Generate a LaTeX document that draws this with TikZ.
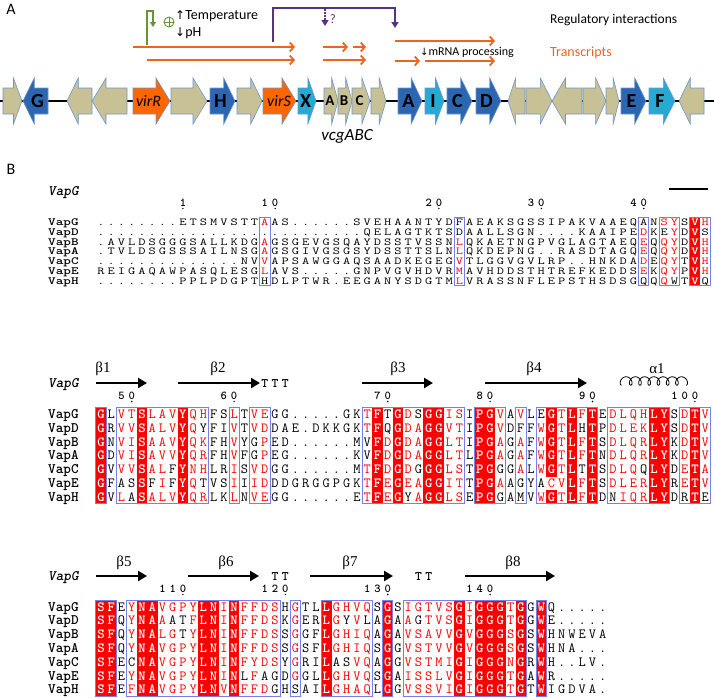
\documentclass[tikz,border=0pt]{standalone}
\usepackage{fontspec}
\usepackage{graphicx}
\setmainfont{Carlito}
\newfontfamily\grkfont{Liberation Serif}
\newfontfamily\arrfont{DejaVu Sans}
\usetikzlibrary{arrows.meta}

\definecolor{espred}{RGB}{255,0,0}
\definecolor{espbox}{RGB}{118,128,235}
\definecolor{genetan}{RGB}{201,193,150}
\definecolor{geneblue}{RGB}{44,102,176}
\definecolor{genecyan}{RGB}{38,170,212}
\definecolor{geneorange}{RGB}{255,102,0}
\definecolor{geneedge}{RGB}{110,150,205}
\definecolor{trorange}{RGB}{236,101,32}
\definecolor{regpurple}{RGB}{88,52,128}
\definecolor{promgreen}{RGB}{104,150,46}

\newcommand\seqfont{\ttfamily\fontsize{14}{14}\selectfont}
\newcommand\seqfontbf{\ttfamily\bfseries\fontsize{14}{14}\selectfont}
\def\resth{8.4pt}
\def\chwrap#1{#1}

\tikzset{
  res/.style={inner sep=0pt, text height=\resth, text depth=0pt, font=\seqfont},
  rowlab/.style={anchor=west, inner sep=0pt, text height=\resth, text depth=0pt, font=\ttfamily\bfseries\fontsize{14.5}{14.5}\selectfont},
  hdrlab/.style={rowlab, font=\ttfamily\bfseries\itshape\fontsize{14.5}{14.5}\selectfont},
  numlab/.style={inner sep=0pt, text height=7pt, text depth=0pt, font=\ttfamily\bfseries\fontsize{12}{12}\selectfont},
  turnlab/.style={inner sep=0pt, text height=8pt, text depth=0pt, font=\ttfamily\bfseries\fontsize{13}{13}\selectfont},
  sslab/.style={inner sep=0pt, font=\grkfont\fontsize{15}{15}\selectfont},
  strand/.style={line width=2.6pt, -{Triangle[length=9pt,width=10pt]}},
  strandbar/.style={line width=2.6pt},
  espframe/.style={draw=espbox, line width=0.9pt},
  genebox/.style={draw=geneedge, line width=0.6pt},
  genelab/.style={inner sep=0pt, font=\bfseries\fontsize{20}{20}\selectfont},
  smalllab/.style={inner sep=0pt, font=\bfseries\fontsize{15}{15}\selectfont},
  virlab/.style={inner sep=0pt, font=\itshape\fontsize{16}{16}\selectfont},
  tr/.style={draw=trorange, line width=1.8pt, -{Straight Barb[length=4pt,width=9pt]}},
  reg/.style={draw=regpurple, line width=1.6pt, -{Triangle[length=6pt,width=7pt]}},
}

% ---------- residue parser ----------
\newcount\colnum
\newif\ifbgnext
\def\seqx{101}\def\seqpw{10.24}
\def\seqrow#1#2#3{\def\rowy{#1}\def\rowh{#2}\global\colnum=0 \global\bgnextfalse\parseseq#3\relax}
\def\parseseq#1{%
  \ifx#1\relax
  \else
    \if!#1%
      \global\bgnexttrue
    \else
      \global\advance\colnum by 1\relax
      \drawres{#1}%
      \global\bgnextfalse
    \fi
    \expandafter\parseseq
  \fi}
\def\drawres#1{%
  \pgfmathsetmacro\rx{\seqx+(\the\colnum-1)*\seqpw}%
  \uppercase{\def\upch{#1}}%
  \ifbgnext
    \fill[espred] (\rx-\seqpw/2-0.2,\rowy-\rowh/2-0.2) rectangle (\rx+\seqpw/2+0.2,\rowy+\rowh/2+0.2);
    \node[res,text=white,font=\seqfontbf] at (\rx,\rowy) {\chwrap{\upch}};
  \else
    \ifnum`#1>96
      \node[res,text=espred] at (\rx,\rowy) {\chwrap{\upch}};
    \else
      \node[res] at (\rx,\rowy) {\chwrap{\upch}};
    \fi
  \fi}
\newcommand\ebox[4]{\draw[espframe] ({\seqx+(#1-1.5)*\seqpw},#3) rectangle ({\seqx+(#2-0.5)*\seqpw},#4);}

% ---------- genes ----------
\def\gy{101}\def\gbh{13}\def\ghh{23}
\newcommand\geneR[3]{%
  \pgfmathsetmacro\ghl{min(14,0.45*(#2-#1))}%
  \filldraw[genebox, fill=#3] (#1,\gy-\gbh) -- ({#2-\ghl},\gy-\gbh) -- ({#2-\ghl},\gy-\ghh) -- (#2,\gy) -- ({#2-\ghl},\gy+\ghh) -- ({#2-\ghl},\gy+\gbh) -- (#1,\gy+\gbh) -- cycle;}
\newcommand\geneL[3]{%
  \pgfmathsetmacro\ghl{min(14,0.45*(#2-#1))}%
  \filldraw[genebox, fill=#3] (#1,\gy) -- ({#1+\ghl},\gy-\ghh) -- ({#1+\ghl},\gy-\gbh) -- (#2,\gy-\gbh) -- (#2,\gy+\gbh) -- ({#1+\ghl},\gy+\gbh) -- ({#1+\ghl},\gy+\ghh) -- cycle;}

\begin{document}
\begin{tikzpicture}[x=1pt,y=-1pt]
\fill[white] (0,0) rectangle (714,697);
\useasboundingbox (0,0) rectangle (714,697);

% ================= Panel A =================
\node[font=\fontsize{16}{16}\selectfont] (panA) at (11,9) {A};
\node[font=\fontsize{16}{16}\selectfont] (panB) at (11,169) {B};

\coordinate (bbL) at (0,\gy);
\coordinate (bbR) at (714,\gy);
\draw[line width=1.2pt] (bbL) -- (bbR);

\geneR{3}{22}{genetan}
\geneL{23}{48}{geneblue}
\geneL{67}{92}{genetan}
\geneL{92}{127}{genetan}
\geneR{133}{170}{geneorange}
\geneR{171}{207}{genetan}
\geneR{210}{235}{geneblue}
\geneR{237}{262}{genetan}
\geneR{263}{296}{geneorange}
\geneR{298}{316}{genecyan}
\geneR{324}{338}{genetan}
\geneR{338}{352}{genetan}
\geneR{352}{370}{genetan}
\geneR{371}{386}{genetan}
\geneR{398}{422}{geneblue}
\geneR{425}{444}{genecyan}
\geneR{447}{472}{geneblue}
\geneR{476}{501}{geneblue}
\geneL{508}{525}{genetan}
\geneR{526}{552}{genetan}
\geneL{552}{582}{genetan}
\geneR{583}{606}{genetan}
\geneR{606}{619}{genetan}
\geneR{621}{646}{geneblue}
\geneR{649}{675}{genecyan}
\geneL{679}{704}{genetan}

\node[genelab] (gG) at (37.5,\gy) {G};
\node[virlab] (gvirR) at (148.5,\gy) {virR};
\node[genelab] (gH) at (220.5,\gy) {H};
\node[virlab] (gvirS) at (279,\gy) {virS};
\node[genelab] (gX) at (305.6,\gy) {X};
\node[smalllab] (gvA) at (330,\gy) {A};
\node[smalllab] (gvB) at (344,\gy) {B};
\node[smalllab] (gvC) at (359.5,\gy) {C};
\node[genelab] (gA) at (408.5,\gy) {A};
\node[genelab] (gI) at (433,\gy) {I};
\node[genelab] (gC) at (457.5,\gy) {C};
\node[genelab] (gD) at (486.5,\gy) {D};
\node[genelab] (gE) at (631.5,\gy) {E};
\node[genelab] (gF) at (660,\gy) {F};
\node[anchor=base, inner sep=0pt, font=\itshape\fontsize{17}{17}\selectfont] (vcg) at (347,140) {vcgABC};

% transcripts
\coordinate (t1a) at (133,47);  \coordinate (t1b) at (295,47);
\coordinate (t2a) at (147,60);  \coordinate (t2b) at (295,60);
\coordinate (t3a) at (323,47);  \coordinate (t3b) at (348,47);
\coordinate (t4a) at (353,47);  \coordinate (t4b) at (366,47);
\coordinate (t5a) at (323,60);  \coordinate (t5b) at (366,60);
\coordinate (t6a) at (395,41);  \coordinate (t6b) at (495,41);
\coordinate (t7a) at (395,61);  \coordinate (t7b) at (420,61);
\coordinate (t8a) at (425,61);  \coordinate (t8b) at (495,61);
\draw[tr] (t1a) -- (t1b);
\draw[tr] (t2a) -- (t2b);
\draw[tr] (t3a) -- (t3b);
\draw[tr] (t4a) -- (t4b);
\draw[tr] (t5a) -- (t5b);
\draw[tr] (t6a) -- (t6b);
\draw[tr] (t7a) -- (t7b);
\draw[tr] (t8a) -- (t8b);

% regulatory: purple
\coordinate (p0) at (273,42);
\coordinate (p1) at (395,8);
\coordinate (p2) at (395,28);
\draw[reg] (p0) |- (p1) -- (p2);
\coordinate (q0) at (325,9);
\coordinate (q1) at (325,26);
\draw[reg, line width=1.3pt, dash pattern=on 1.5pt off 1.5pt] (q0) -- (q1);
\node[text=regpurple, inner sep=0pt, font=\fontsize{13}{13}\selectfont] (qm) at (333,19) {?};

% promoter: green
\coordinate (g0) at (147,45);
\coordinate (g1) at (153,11);
\coordinate (g2) at (153,27);
\draw[draw=promgreen, line width=2pt, -{Triangle[length=5pt,width=6pt]}] (g0) |- (g1) -- (g2);
\node[draw=promgreen, circle, line width=0.9pt, minimum size=10pt, inner sep=0pt] (plus) at (169,22) {};
\draw[promgreen, line width=0.9pt] (plus.north) -- (plus.south) (plus.west) -- (plus.east);

\node[anchor=west, inner sep=0pt, font=\fontsize{14}{14}\selectfont] (temp) at (175,16) {{\arrfont\fontsize{12}{12}\selectfont ↑}Temperature};
\node[anchor=west, inner sep=0pt, font=\fontsize{14}{14}\selectfont] (ph) at (175,33) {{\arrfont\fontsize{12}{12}\selectfont ↓}pH};
\node[anchor=west, inner sep=0pt, font=\fontsize{12}{12}\selectfont] (mrna) at (420,52) {{\arrfont\fontsize{10}{10}\selectfont ↓}mRNA processing};
\node[anchor=west, inner sep=0pt, font=\fontsize{13.5}{13.5}\selectfont] (regint) at (550,20) {Regulatory interactions};
\node[anchor=west, inner sep=0pt, text=trorange, font=\fontsize{14}{14}\selectfont] (trans) at (550,53) {Transcripts};

% ================= Panel B =================
% ---- block 1 (vertically compressed) ----
\node[hdrlab] (h1) at (48,191) {VapG};
\draw[strandbar] (669,189) -- (708,189);
\foreach \c/\d in {9/1,17/1,18/0,33/2,34/0,43/3,44/0,53/4,54/0}
  \node[numlab] at ({\seqx+(\c-1)*\seqpw},203) {\d};
\foreach \c in {9,18,34,44,54} \fill ({\seqx+(\c-1)*\seqpw},208.5) circle (0.8);
\def\resth{6.4pt}
\def\chwrap#1{\scalebox{1}[0.76]{#1}}
\foreach \n [count=\i from 0] in {VapG,VapD,VapB,VapA,VapC,VapE,VapH}
  \node[rowlab] (r1-\i) at (48,{222.3+\i*9.75}) {\scalebox{1}[0.76]{\n}};
\seqrow{222.3}{9.75}{........ETSMVSTTaAS......SVEHAANTYDFAEAKSGSSIPAKVAAEQANsyS!Vh}
\seqrow{232.05}{9.75}{..........................QELAGTKTSDAALLSGN....KAAIPEdKEyD!VS}
\seqrow{241.8}{9.75}{.AVLDSGGGSALLKDGaGSGEVGSQAYDSSTVSSNlQKAETNGPVGLAGTAEQeQqyD!Vh}
\seqrow{251.55}{9.75}{.TVLDSGSSSAILNSGaGSGIVGSGSYDSSTTSLNlQKDEPNG..RASDTAGQeQqyD!Vh}
\seqrow{261.3}{9.75}{..............NVvAPSAWGGAQSAADKEGEGvTLGGVGVLRP..HNKDAdEqyT!Vh}
\seqrow{271.05}{9.75}{REIGAQAWPASQLESGlAVS.....GNPVGVHDVRmAVHDDSTHTREFKEDDSeKqyP!Vh}
\seqrow{280.8}{9.75}{........PPLPDGPTHDLPTWR.EEGANYSDGTMlVRASSNFLEPSTHSDSGQQqWT!VQ}
\ebox{17}{17}{217.4}{285.7}
\ebox{36}{36}{217.4}{285.7}
\ebox{54}{54}{217.4}{285.7}
\ebox{56}{57}{217.4}{285.7}
\ebox{59}{60}{217.4}{285.7}
\def\resth{8.4pt}
\def\chwrap#1{#1}

% ---- block 2 ----
\node[hdrlab] (h2) at (48,383) {VapG};
\node[sslab] (s1) at (103,369) {β1};
\draw[strand] (96,383) -- (147,383);
\node[sslab] (s2) at (218,369) {β2};
\draw[strand] (178,383) -- (260,383);
\foreach \c in {17,18,19} \node[turnlab] at ({\seqx+(\c-1)*\seqpw},383) {T};
\node[sslab] (s3) at (398,369) {β3};
\draw[strand] (362,383) -- (433,383);
\node[sslab] (s4) at (534,369) {β4};
\draw[strand] (485,383) -- (587,383);
\node[sslab] (s5) at (657,369) {α1};
\draw[line width=0.8pt] plot[domain=0:2520,samples=420] ({621.5+1.47*\x*pi/180-3.3*sin(\x)},{381+4.2*cos(\x)});
\foreach \c/\d in {3/5,4/0,13/6,14/0,28/7,29/0,38/8,39/0,48/9,49/0,57/1,58/0,59/0}
  \node[numlab] at ({\seqx+(\c-1)*\seqpw},396) {\d};
\foreach \c in {4,14,29,39,49,59} \fill ({\seqx+(\c-1)*\seqpw},401.5) circle (0.8);
\foreach \n [count=\i from 0] in {VapG,VapD,VapB,VapA,VapC,VapE,VapH}
  \node[rowlab] (r2-\i) at (48,{414.2+\i*13.8}) {\n};
\seqrow{414.2}{13.8}{!GLvt!Slav!YqhFSlTveGG.....GKt!FT!GdS!G!GisI!P!GvAvLE!Gt!Lf!TEdlqh!L!YSd!Tv}
\seqrow{428.0}{13.8}{!GRvv!Salv!YqYFIvTvdDAE.DKKGKt!FQ!Gda!G!GvtI!P!GvDFFw!Gt!LH!TPdlek!L!YSd!Tv}
\seqrow{441.8}{13.8}{!GNvi!Saav!YqkFHvYGpED......MV!Fd!Gda!G!GltI!P!GaGaFw!Gt!Lf!TSdlqr!L!YKd!Tv}
\seqrow{455.6}{13.8}{!GDvi!Savv!YqrFHvFGpEG......KV!Fd!Gda!G!GltL!P!GaGaFw!Gt!Lf!TNdlqr!L!YKd!Tv}
\seqrow{469.4}{13.8}{!GVvv!SalF!YnhLRiSvdGG......Mt!Fd!GdG!G!GlsT!P!GGGaLw!Gt!LT!TSdlqQ!L!YDe!Ta}
\seqrow{483.2}{13.8}{!GFAS!SFiF!YqTVSiIidDDGRGGPGKt!Fe!Gea!G!GitT!P!GaAGYAcv!Lf!TSdler!L!YRe!Tv}
\seqrow{497.0}{13.8}{!GVlA!Salv!YqrLKlNveGG......Et!Fe!GYa!G!GlsE!P!GGAMVw!Gt!Lf!TDNiqr!L!YDR!TE}
\ebox{1}{1}{407.3}{503.9}
\ebox{3}{11}{407.3}{503.9}
\ebox{14}{14}{407.3}{503.9}
\ebox{16}{17}{407.3}{503.9}
\ebox{27}{36}{407.3}{503.9}
\ebox{38}{40}{407.3}{503.9}
\ebox{42}{42}{407.3}{503.9}
\ebox{44}{49}{407.3}{503.9}
\ebox{51}{56}{407.3}{503.9}
\ebox{58}{60}{407.3}{503.9}

% ---- block 3 ----
\node[hdrlab] (h3) at (48,576) {VapG};
\node[sslab] (s6) at (124,563) {β5};
\draw[strand] (96,576) -- (147,576);
\node[sslab] (s7) at (226,563) {β6};
\draw[strand] (188,576) -- (259,576);
\foreach \c in {18,19} \node[turnlab] at ({\seqx+(\c-1)*\seqpw},576) {T};
\node[sslab] (s8) at (350,563) {β7};
\draw[strand] (310,576) -- (393,576);
\foreach \c in {32,33} \node[turnlab] at ({\seqx+(\c-1)*\seqpw},576) {T};
\node[sslab] (s9) at (513,563) {β8};
\draw[strand] (465,576) -- (555,576);
\foreach \c/\d in {7/1,8/1,9/0,17/1,18/2,19/0,27/1,28/3,29/0,37/1,38/4,39/0}
  \node[numlab] at ({\seqx+(\c-1)*\seqpw},589) {\d};
\foreach \c in {9,19,29,39} \fill ({\seqx+(\c-1)*\seqpw},594.5) circle (0.8);
\foreach \n [count=\i from 0] in {VapG,VapD,VapB,VapA,VapC,VapE,VapH}
  \node[rowlab] (r3-\i) at (48,{607+\i*13.78}) {\n};
\seqrow{607.0}{13.78}{!S!FEy!N!Avgpy!L!Ni!NffdsHgTL!LghvqS!GSigtvs!Gi!G!G!Gt!GG!WQ.....}
\seqrow{620.78}{13.78}{!S!FQy!N!AaATf!L!Ni!NffdsKgER!LgYvLA!GAaGtvs!Gi!G!G!Gt!GG!WE.....}
\seqrow{634.56}{13.78}{!S!FQy!N!AlgTy!L!Ni!NffdsSgGF!LghiqA!GAvsavv!Gv!G!G!Gs!GS!WHNWEVA}
\seqrow{648.34}{13.78}{!S!FQy!N!Avgpy!L!Ni!NffdsSgSF!LghiqS!GGvstvv!Gv!G!G!Gs!GS!WHNA...}
\seqrow{662.12}{13.78}{!S!FEC!N!Avgpy!L!Ni!NfydsYgRI!LASvqA!GGvstmi!Gi!G!G!Gn!GR!WH..LV.}
\seqrow{675.9}{13.78}{!S!FEy!N!Avgpy!L!Ni!NLfAGDgGL!LghvqS!GAisslv!Gi!G!G!Gt!GA!WR.....}
\seqrow{689.68}{13.78}{!S!FEf!N!Avgpy!L!Nv!NffdGHSAI!LghaqL!GGvssvi!Gi!G!G!Gt!GT!WIGDVA.}
\ebox{1}{2}{600.1}{696.3}
\ebox{4}{18}{600.1}{696.3}
\ebox{20}{20}{600.1}{696.3}
\ebox{23}{27}{600.1}{696.3}
\ebox{29}{29}{600.1}{696.3}
\ebox{31}{42}{600.1}{696.3}
\ebox{44}{44}{600.1}{696.3}
\end{tikzpicture}
\end{document}
